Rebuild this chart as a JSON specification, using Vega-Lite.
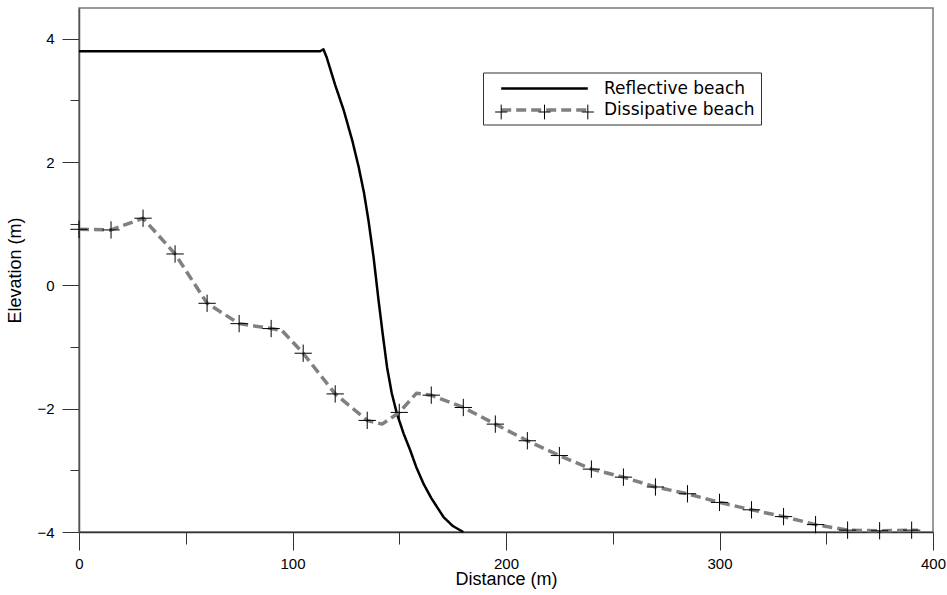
{
  "$schema": "https://vega.github.io/schema/vega-lite/v6.json",
  "width": 854,
  "height": 524,
  "autosize": {"type": "none"},
  "padding": {"left": 79, "top": 8, "right": 14, "bottom": 63},
  "background": "white",
  "config": {
    "view": {"stroke": "#7a7a7a", "strokeWidth": 1.5},
    "font": "Liberation Sans",
    "axis": {
      "labelFont": "Liberation Sans",
      "titleFont": "Liberation Sans",
      "labelColor": "#000000",
      "titleColor": "#000000",
      "titleFontWeight": "normal",
      "labelFontSize": 15,
      "titleFontSize": 18,
      "grid": false,
      "tickColor": "#333333",
      "domainColor": "#555555",
      "tickWidth": 1,
      "domainWidth": 1.5,
      "labelFlush": false,
      "labelOverlap": false
    },
    "legend": {
      "labelFont": "DejaVu Sans",
      "labelFontSize": 17,
      "labelColor": "#000000"
    }
  },
  "datasets": {
    "profiles": [
      {"series": "Reflective beach", "x": 0, "y": 3.8, "m": false},
      {"series": "Reflective beach", "x": 113, "y": 3.8, "m": false},
      {"series": "Reflective beach", "x": 114.5, "y": 3.83, "m": false},
      {"series": "Reflective beach", "x": 116, "y": 3.7, "m": false},
      {"series": "Reflective beach", "x": 120, "y": 3.25, "m": false},
      {"series": "Reflective beach", "x": 124, "y": 2.84, "m": false},
      {"series": "Reflective beach", "x": 128, "y": 2.35, "m": false},
      {"series": "Reflective beach", "x": 131, "y": 1.92, "m": false},
      {"series": "Reflective beach", "x": 133.5, "y": 1.5, "m": false},
      {"series": "Reflective beach", "x": 135.6, "y": 1.05, "m": false},
      {"series": "Reflective beach", "x": 138, "y": 0.45, "m": false},
      {"series": "Reflective beach", "x": 140.3, "y": -0.24, "m": false},
      {"series": "Reflective beach", "x": 142.3, "y": -0.8, "m": false},
      {"series": "Reflective beach", "x": 144.3, "y": -1.33, "m": false},
      {"series": "Reflective beach", "x": 146.5, "y": -1.75, "m": false},
      {"series": "Reflective beach", "x": 148.9, "y": -2.08, "m": false},
      {"series": "Reflective beach", "x": 152, "y": -2.4, "m": false},
      {"series": "Reflective beach", "x": 155.2, "y": -2.68, "m": false},
      {"series": "Reflective beach", "x": 158, "y": -2.95, "m": false},
      {"series": "Reflective beach", "x": 161.4, "y": -3.22, "m": false},
      {"series": "Reflective beach", "x": 165, "y": -3.45, "m": false},
      {"series": "Reflective beach", "x": 170.8, "y": -3.76, "m": false},
      {"series": "Reflective beach", "x": 175, "y": -3.9, "m": false},
      {"series": "Reflective beach", "x": 180, "y": -4.0, "m": false},
      {"series": "Dissipative beach", "x": 0, "y": 0.91, "m": true},
      {"series": "Dissipative beach", "x": 15, "y": 0.9, "m": true},
      {"series": "Dissipative beach", "x": 30, "y": 1.09, "m": true},
      {"series": "Dissipative beach", "x": 45, "y": 0.51, "m": true},
      {"series": "Dissipative beach", "x": 60, "y": -0.29, "m": true},
      {"series": "Dissipative beach", "x": 75, "y": -0.62, "m": true},
      {"series": "Dissipative beach", "x": 90, "y": -0.7, "m": true},
      {"series": "Dissipative beach", "x": 95, "y": -0.73, "m": false},
      {"series": "Dissipative beach", "x": 105, "y": -1.1, "m": true},
      {"series": "Dissipative beach", "x": 120, "y": -1.76, "m": true},
      {"series": "Dissipative beach", "x": 135, "y": -2.19, "m": true},
      {"series": "Dissipative beach", "x": 142, "y": -2.25, "m": false},
      {"series": "Dissipative beach", "x": 150, "y": -2.06, "m": true},
      {"series": "Dissipative beach", "x": 158, "y": -1.75, "m": false},
      {"series": "Dissipative beach", "x": 165, "y": -1.78, "m": true},
      {"series": "Dissipative beach", "x": 180, "y": -1.98, "m": true},
      {"series": "Dissipative beach", "x": 195, "y": -2.25, "m": true},
      {"series": "Dissipative beach", "x": 210, "y": -2.52, "m": true},
      {"series": "Dissipative beach", "x": 225, "y": -2.76, "m": true},
      {"series": "Dissipative beach", "x": 240, "y": -2.98, "m": true},
      {"series": "Dissipative beach", "x": 255, "y": -3.11, "m": true},
      {"series": "Dissipative beach", "x": 270, "y": -3.27, "m": true},
      {"series": "Dissipative beach", "x": 285, "y": -3.38, "m": true},
      {"series": "Dissipative beach", "x": 300, "y": -3.52, "m": true},
      {"series": "Dissipative beach", "x": 315, "y": -3.64, "m": true},
      {"series": "Dissipative beach", "x": 330, "y": -3.75, "m": true},
      {"series": "Dissipative beach", "x": 345, "y": -3.88, "m": true},
      {"series": "Dissipative beach", "x": 360, "y": -3.97, "m": true},
      {"series": "Dissipative beach", "x": 375, "y": -3.98, "m": true},
      {"series": "Dissipative beach", "x": 390, "y": -3.97, "m": true},
      {"series": "Dissipative beach", "x": 393, "y": -3.97, "m": false}
    ]
  },
  "layer": [
    {
      "data": {"name": "profiles"},
      "mark": {"type": "line", "strokeJoin": "round"},
      "encoding": {
        "x": {
          "field": "x", "type": "quantitative",
          "scale": {"domain": [0, 400], "nice": false},
          "axis": {
            "orient": "bottom",
            "values": [0, 50, 100, 150, 200, 250, 300, 350, 400],
            "format": "d",
            "tickSize": {"condition": {"test": "datum.value % 100 === 0", "value": 18}, "value": 12},
            "labelExpr": "datum.value % 100 === 0 ? datum.label : ''",
            "labelPadding": 6,
            "title": "Distance (m)",
            "titlePadding": -1,
            "domainColor": "#333333"
          }
        },
        "y": {
          "field": "y", "type": "quantitative",
          "scale": {"domain": [-4, 4.5], "nice": false, "zero": false},
          "axis": {
            "orient": "left",
            "values": [-4, -3, -2, -1, 0, 1, 2, 3, 4],
            "format": "d",
            "tickSize": {"condition": {"test": "datum.value % 2 === 0", "value": 17}, "value": 9},
            "labelExpr": "datum.value % 2 === 0 ? datum.label : ''",
            "labelPadding": 8,
            "title": "Elevation (m)",
            "titlePadding": 12
          }
        },
        "color": {
          "field": "series", "type": "nominal",
          "scale": {"domain": ["Reflective beach", "Dissipative beach"], "range": ["#000000", "#808080"]},
          "legend": {"orient": "none", "legendX": 404, "legendY": 64.5, "title": null, "strokeColor": "#333333", "fillColor": "white", "padding": 6, "symbolType": "M-5,0L5,0", "symbolSize": 300, "symbolStrokeWidth": 3, "symbolOffset": 45, "labelOffset": 49, "rowPadding": 3}
        },
        "strokeDash": {
          "field": "series", "type": "nominal",
          "scale": {"domain": ["Reflective beach", "Dissipative beach"], "range": [[1, 0], [10, 5]]},
          "legend": {"orient": "none", "legendX": 404, "legendY": 64.5, "title": null, "strokeColor": "#333333", "fillColor": "white", "padding": 6, "symbolType": "M-5,0L5,0", "symbolSize": 300, "symbolStrokeWidth": 3, "symbolOffset": 45, "labelOffset": 49, "rowPadding": 3}
        },
        "strokeWidth": {
          "field": "series", "type": "nominal",
          "scale": {"domain": ["Reflective beach", "Dissipative beach"], "range": [2.5, 3.5]},
          "legend": null
        }
      }
    },
    {
      "data": {"name": "profiles"},
      "transform": [{"filter": "datum.m"}],
      "mark": {"type": "point", "filled": false, "stroke": "#000000", "strokeWidth": 1, "size": 300, "shape": "M-1,0L1,0M0,-1L0,1"},
      "encoding": {
        "x": {"field": "x", "type": "quantitative"},
        "y": {"field": "y", "type": "quantitative"},
        "opacity": {
          "field": "series", "type": "nominal",
          "scale": {"domain": ["Dissipative beach"], "range": [1]},
          "legend": {"orient": "none", "legendX": 404, "legendY": 88.5, "title": null, "padding": 6, "symbolSize": 300, "symbolStrokeWidth": 1, "symbolStrokeColor": "#000000", "symbolFillColor": "transparent", "symbolOpacity": 1, "symbolOffset": 46, "labelOffset": 49, "labelExpr": "''",
            "symbolType": "M-5.7,0L-4.3,0M-5,-0.85L-5,0.85M-0.7,0L0.7,0M0,-0.85L0,0.85M4.3,0L5.7,0M5,-0.85L5,0.85"}
        }
      }
    }
  ]
}
